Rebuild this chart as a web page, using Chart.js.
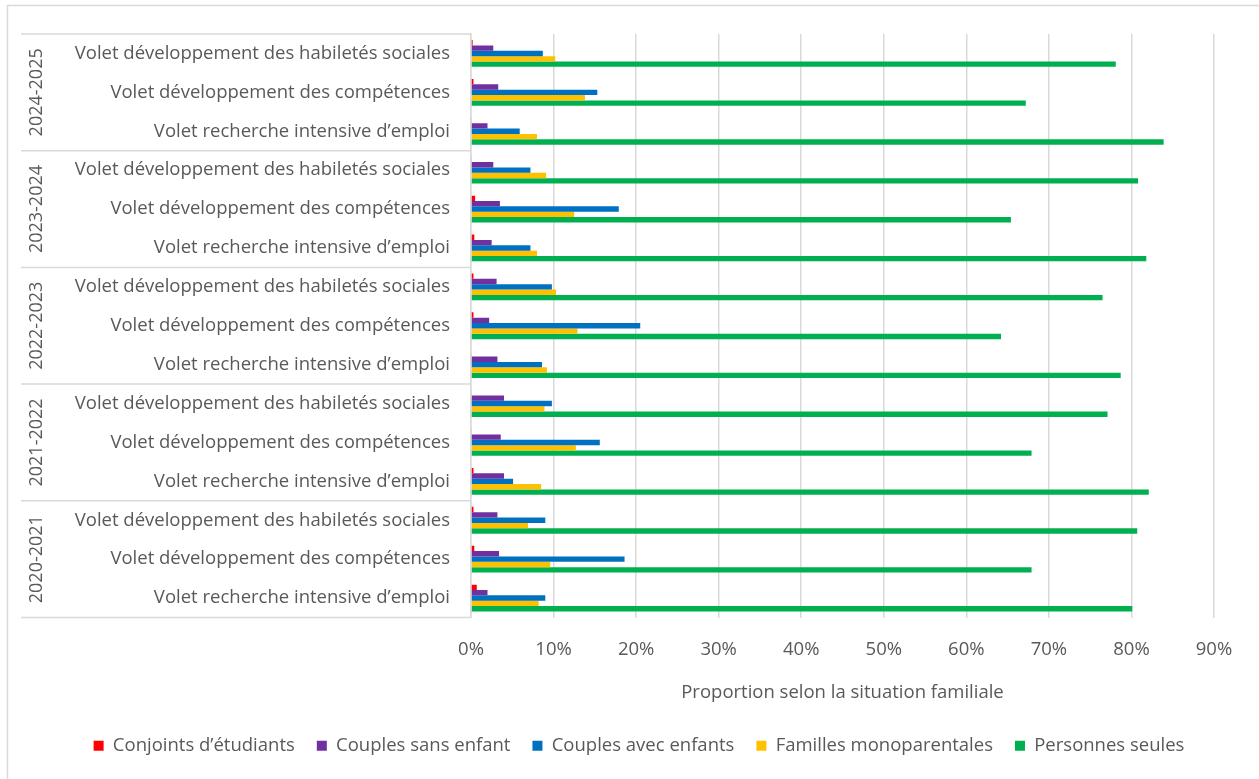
<!DOCTYPE html>
<html lang="fr">
<head>
<meta charset="utf-8">
<title>Proportion selon la situation familiale</title>
<script src="https://cdn.jsdelivr.net/npm/chart.js@4.4.1/dist/chart.umd.min.js"></script>
<style>
  html, body { margin: 0; padding: 0; background: #fff; }
  #wrap { width: 1259px; height: 779px; }
</style>
</head>
<body>
<div id="wrap"><canvas id="chart" width="1259" height="779"></canvas></div>
<script>
// categories (top to bottom, as in the picture)
const years = ["2024-2025", "2023-2024", "2022-2023", "2021-2022", "2020-2021"];
const volets = [
  "Volet développement des habiletés sociales",
  "Volet développement des compétences",
  "Volet recherche intensive d’emploi"
];

// series values in %, one value per (year, volet), same order as above
const conjointsEtudiants = [0.2, 0.3, 0.1,  0.1, 0.5, 0.4,  0.3, 0.3, 0.1,  0.1, 0.1, 0.3,  0.3, 0.4, 0.7];
const couplesSansEnfant  = [2.7, 3.3, 2.0,  2.7, 3.5, 2.5,  3.1, 2.2, 3.2,  4.0, 3.6, 4.0,  3.2, 3.4, 2.0];
const couplesAvecEnfants = [8.7, 15.3, 5.9, 7.2, 17.9, 7.2, 9.8, 20.5, 8.6, 9.8, 15.6, 5.1, 9.0, 18.6, 9.0];
const famillesMono       = [10.2, 13.8, 8.0, 9.1, 12.5, 8.0, 10.3, 12.9, 9.2, 8.9, 12.7, 8.5, 6.9, 9.6, 8.2];
const personnesSeules    = [78.1, 67.2, 83.9, 80.8, 65.4, 81.8, 76.5, 64.2, 78.7, 77.1, 67.9, 82.1, 80.7, 67.9, 80.1];

const xTicks = [0, 10, 20, 30, 40, 50, 60, 70, 80, 90];

const labels = years.flatMap(() => volets);
const FONT = "'Open Sans', sans-serif";
const FS = 18.5;
const GREY_TXT = "#595959";
const GREY_LINE = "#d9d9d9";

// frame of the chart object (only left/top edges are visible)
const framePlugin = {
  id: "frame",
  beforeDraw(chart) {
    const ctx = chart.ctx;
    ctx.save();
    ctx.fillStyle = "#fff";
    ctx.fillRect(0, 0, chart.width, chart.height);
    ctx.strokeStyle = GREY_LINE;
    ctx.lineWidth = 1.5;
    ctx.beginPath();
    ctx.moveTo(7.5, chart.height);
    ctx.lineTo(7.5, 5.5);
    ctx.lineTo(chart.width, 5.5);
    ctx.stroke();
    ctx.restore();
  }
};

// legend is centred on the whole chart object, not on the plot area
const legendShift = {
  id: "legendShift",
  afterLayout(chart) {
    if (chart.legend) {
      chart.legend.left += 32;
      chart.legend.right += 32;
    }
  }
};

// second level of the category axis: year groups
const yearGroupPlugin = {
  id: "yearGroups",
  afterDraw(chart) {
    const { ctx, chartArea } = chart;
    const y = chart.scales.y;
    const n = volets.length;
    const bounds = [];
    for (let g = 0; g <= years.length; g++) {
      if (g === 0) bounds.push(chartArea.top);
      else if (g === years.length) bounds.push(chartArea.bottom);
      else bounds.push((y.getPixelForValue(g * n - 1) + y.getPixelForValue(g * n)) / 2);
    }
    ctx.save();
    ctx.strokeStyle = GREY_LINE;
    ctx.lineWidth = 1.5;
    bounds.forEach(b => {
      ctx.beginPath();
      ctx.moveTo(21, b);
      ctx.lineTo(chartArea.left, b);
      ctx.stroke();
    });
    ctx.fillStyle = GREY_TXT;
    ctx.font = "18px " + FONT;
    ctx.textAlign = "center";
    ctx.textBaseline = "middle";
    years.forEach((yr, g) => {
      ctx.save();
      ctx.translate(37, (bounds[g] + bounds[g + 1]) / 2);
      ctx.rotate(-Math.PI / 2);
      ctx.fillText(yr, 0, 0);
      ctx.restore();
    });
    ctx.restore();
  }
};

const ds = (label, data, color) => ({
  label, data,
  backgroundColor: color,
  borderWidth: 0,
  categoryPercentage: 0.69,
  barPercentage: 1
});

new Chart(document.getElementById("chart"), {
  type: "bar",
  data: {
    labels,
    datasets: [
      ds("Conjoints d’étudiants", conjointsEtudiants, "#FF0000"),
      ds("Couples sans enfant", couplesSansEnfant, "#7030A0"),
      ds("Couples avec enfants", couplesAvecEnfants, "#0070C0"),
      ds("Familles monoparentales", famillesMono, "#FFC000"),
      ds("Personnes seules", personnesSeules, "#00B050")
    ]
  },
  options: {
    indexAxis: "y",
    responsive: false,
    animation: false,
    layout: { padding: { top: 34, right: 45, bottom: 14, left: 0 } },
    plugins: {
      tooltip: { enabled: false },
      legend: {
        position: "bottom",
        labels: {
          font: { family: FONT, size: FS },
          color: GREY_TXT,
          boxWidth: 10,
          boxHeight: 10,
          padding: 22
        }
      }
    },
    scales: {
      x: {
        min: 0,
        max: xTicks[xTicks.length - 1],
        afterBuildTicks(scale) { scale.ticks = xTicks.map(v => ({ value: v })); },
        afterFit(scale) { scale.height = 97; },
        grid: { color: GREY_LINE, lineWidth: 1.5, drawTicks: false },
        border: { display: false },
        ticks: {
          padding: 21,
          color: GREY_TXT,
          font: { family: FONT, size: FS },
          callback: v => v + "%"
        },
        title: {
          display: true,
          text: "Proportion selon la situation familiale",
          color: GREY_TXT,
          font: { family: FONT, size: FS },
          padding: { top: 0, bottom: 11 }
        }
      },
      y: {
        afterFit(scale) { scale.width = 471; },
        grid: { display: false, drawTicks: false },
        border: { display: true, color: GREY_LINE, width: 1.5 },
        ticks: {
          padding: 21,
          autoSkip: false,
          color: GREY_TXT,
          font: { family: FONT, size: FS }
        }
      }
    }
  },
  plugins: [framePlugin, legendShift, yearGroupPlugin]
});
</script>
</body>
</html>
